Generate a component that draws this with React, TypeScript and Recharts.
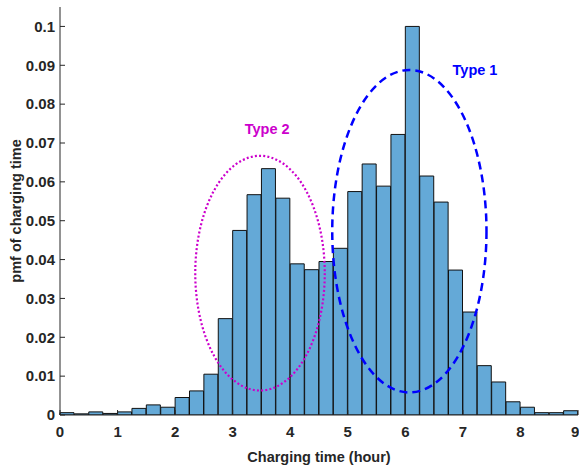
import React from "react";
import { ComposedChart, Bar, XAxis, YAxis, ReferenceArea, ReferenceDot } from "recharts";

// histogram bin starts (hours), bin width 0.25
const binStarts = [
  0, 0.25, 0.5, 0.75, 1, 1.25, 1.5, 1.75, 2, 2.25, 2.5, 2.75,
  3, 3.25, 3.5, 3.75, 4, 4.25, 4.5, 4.75, 5, 5.25, 5.5, 5.75,
  6, 6.25, 6.5, 6.75, 7, 7.25, 7.5, 7.75, 8, 8.25, 8.5, 8.75,
];
const pmfValues = [
  0.0006, 0.0003, 0.0008, 0.0004, 0.0008, 0.0017, 0.0026, 0.002, 0.0045, 0.0062, 0.0105, 0.0248,
  0.0475, 0.0567, 0.0634, 0.0558, 0.0389, 0.0374, 0.0395, 0.0429, 0.0575, 0.0646, 0.0589, 0.0722,
  0.1, 0.0615, 0.0548, 0.0373, 0.0265, 0.0127, 0.0085, 0.0034, 0.002, 0.0006, 0.0006, 0.0011,
];
const xTicks = [0, 1, 2, 3, 4, 5, 6, 7, 8, 9];
const yTicks = [0, 0.01, 0.02, 0.03, 0.04, 0.05, 0.06, 0.07, 0.08, 0.09, 0.1];

// annotation ellipses: [xStart, xEnd, yLow, yHigh]
const type2Box = [2.35, 4.6, 0.0063, 0.0667];
const type1Box = [4.73, 7.41, 0.0058, 0.0888];
// annotation labels: [x, y]
const type2Label = [3.6, 0.0735];
const type1Label = [7.21, 0.0887];

const data = binStarts.map((b, i) => ({ bin: b, pmf: pmfValues[i] }));

const FONT = "'Liberation Sans', Arial, Helvetica, sans-serif";
const AXIS = "#262626";
const MAGENTA = "#CC00CC";
const BLUE = "#0000FF";

const ellipseShape = (stroke: string, dash: string, sw: number) => (p: any) => {
  const { x, y, width, height } = p;
  return (
    <ellipse
      cx={x + width / 2}
      cy={y + height / 2}
      rx={Math.abs(width) / 2}
      ry={Math.abs(height) / 2}
      fill="none"
      stroke={stroke}
      strokeWidth={sw}
      strokeDasharray={dash}
    />
  );
};

const textShape = (label: string, color: string) => (p: any) => (
  <text
    x={p.cx}
    y={p.cy}
    textAnchor="middle"
    dominantBaseline="central"
    fill={color}
    fontFamily={FONT}
    fontWeight="bold"
    fontSize={14.5}
  >
    {label}
  </text>
);

export default function App() {
  const tickStyle = { fill: AXIS, fontSize: 15, fontWeight: "bold", fontFamily: FONT };
  return (
    <div style={{ position: "absolute", left: 0, top: 0, background: "#fff" }}>
      <ComposedChart
        width={579}
        height={466}
        data={data}
        margin={{ top: 7, right: 1, bottom: 0, left: 0 }}
        barCategoryGap={0}
        barGap={0}
      >
        <XAxis xAxisId="cat" dataKey="bin" type="category" hide height={0} />
        <XAxis
          xAxisId="num"
          dataKey="bin"
          type="number"
          domain={[0, 9]}
          ticks={xTicks}
          allowDataOverflow
          height={51}
          tickSize={-5}
          tickMargin={16}
          stroke={AXIS}
          tick={tickStyle}
          label={{
            value: "Charging time (hour)",
            position: "insideBottom",
            offset: 4,
            style: { fill: AXIS, fontSize: 14.5, fontWeight: "bold", fontFamily: FONT },
          }}
        />
        <XAxis
          xAxisId="top"
          dataKey="bin"
          orientation="top"
          type="number"
          domain={[0, 9]}
          ticks={xTicks}
          allowDataOverflow
          height={0}
          tickSize={-5}
          tickFormatter={() => ""}
          stroke={AXIS}
        />
        <YAxis
          yAxisId="left"
          domain={[0, 0.105]}
          ticks={yTicks}
          allowDataOverflow
          width={60}
          tickSize={-5}
          tickMargin={10}
          stroke={AXIS}
          tick={tickStyle}
          label={{
            value: "pmf of charging time",
            angle: -90,
            position: "insideLeft",
            offset: 16,
            style: { fill: AXIS, fontSize: 14.5, fontWeight: "bold", fontFamily: FONT, textAnchor: "middle" },
          }}
        />
        <YAxis
          yAxisId="right"
          orientation="right"
          domain={[0, 0.105]}
          ticks={yTicks}
          allowDataOverflow
          width={0}
          tickSize={-5}
          tickFormatter={() => ""}
          stroke={AXIS}
        />
        <Bar
          xAxisId="cat"
          yAxisId="left"
          dataKey="pmf"
          fill="#64A9D7"
          stroke="#111"
          strokeWidth={1}
          isAnimationActive={false}
        />
        <ReferenceArea
          xAxisId="num"
          yAxisId="left"
          x1={type2Box[0]}
          x2={type2Box[1]}
          y1={type2Box[2]}
          y2={type2Box[3]}
          zIndex={1000}
          shape={ellipseShape(MAGENTA, "2 2.2", 2.2)}
        />
        <ReferenceArea
          xAxisId="num"
          yAxisId="left"
          x1={type1Box[0]}
          x2={type1Box[1]}
          y1={type1Box[2]}
          y2={type1Box[3]}
          zIndex={1000}
          shape={ellipseShape(BLUE, "8 5", 2.5)}
        />
        <ReferenceDot
          xAxisId="num"
          yAxisId="left"
          x={type2Label[0]}
          y={type2Label[1]}
          zIndex={1000}
          shape={textShape("Type 2", MAGENTA)}
        />
        <ReferenceDot
          xAxisId="num"
          yAxisId="left"
          x={type1Label[0]}
          y={type1Label[1]}
          zIndex={1000}
          shape={textShape("Type 1", BLUE)}
        />
      </ComposedChart>
    </div>
  );
}
